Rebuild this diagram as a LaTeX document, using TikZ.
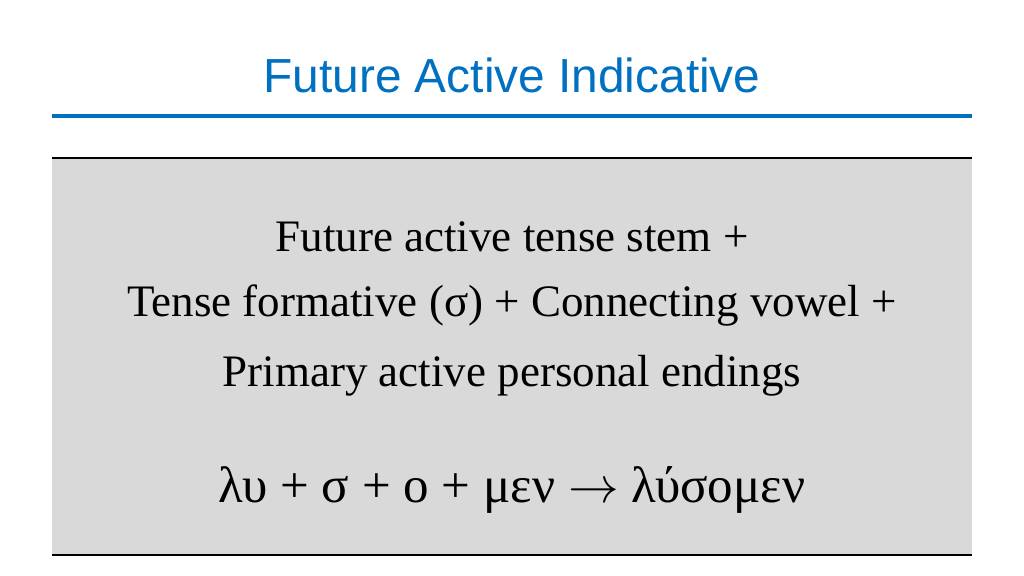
\documentclass[tikz,border=0pt]{standalone}
\usepackage{fontspec}
\setmainfont{Liberation Serif}
\newfontfamily\titlefont{Liberation Sans}
\definecolor{titleblue}{RGB}{0,112,192}
\definecolor{boxgray}{RGB}{217,217,217}
\begin{document}
\begin{tikzpicture}[x=0.01cm,y=-0.01cm,
  bodytext/.style={font=\fontsize{12.8pt}{14pt}\selectfont, anchor=center},
  greektext/.style={font=\fontsize{14.5pt}{16pt}\selectfont, anchor=center}]
\useasboundingbox (0,0) rectangle (1024,576);
\node[font=\titlefont\fontsize{13.6pt}{15pt}\selectfont, text=titleblue] (title) at (512,75) {Future Active Indicative};
\draw[titleblue, line width=1pt] (52,116) -- (972,116);
\fill[boxgray] (52,158) rectangle (972,555);
\draw[black, line width=0.4pt] (52,158) -- (972,158);
\draw[black, line width=0.4pt] (52,555) -- (972,555);
\node[bodytext] (l1) at (512,237) {Future active tense stem +};
\node[bodytext] (l2) at (512,306) {Tense formative (σ) + Connecting vowel +};
\node[bodytext] (l3) at (512,376) {Primary active personal endings};
\node[greektext] (l4) at (512,490) {λυ + σ + ο + μεν $\rightarrow$ λύσομεν};
\end{tikzpicture}
\end{document}
